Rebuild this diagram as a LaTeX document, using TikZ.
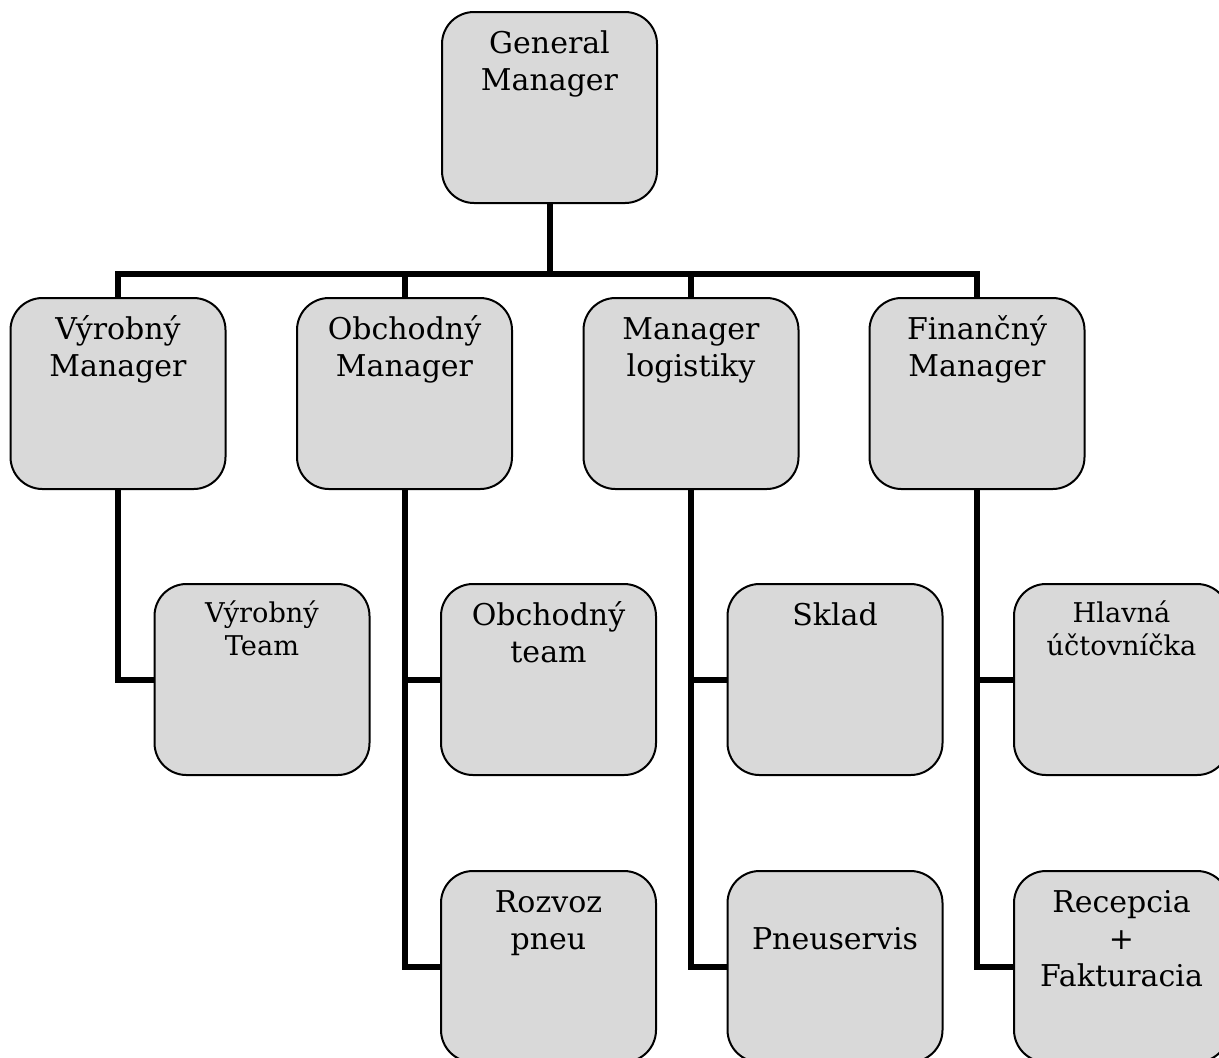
\documentclass[tikz,border=0pt]{standalone}
\usepackage{fontspec}
\setmainfont{DejaVu Serif}
\usetikzlibrary{backgrounds}
\definecolor{boxfill}{RGB}{217,217,217}
\newcommand{\bigtxt}[1]{\parbox[c][95.5pt][t]{107.5pt}{\centering\fontsize{15}{18.5}\selectfont\rule{0pt}{20.5pt}#1}}
\newcommand{\smalltxt}[1]{\parbox[c][95.5pt][t]{107.5pt}{\centering\fontsize{13.6}{16.5}\selectfont\rule{0pt}{19pt}#1}}
\tikzset{
  orgbox/.style={draw=black, line width=1pt, fill=boxfill, rounded corners=16pt,
    inner sep=0pt, minimum width=107.5pt, minimum height=95.5pt},
  conn/.style={draw=black, line width=3pt}
}
\begin{document}
\begin{tikzpicture}[x=0.5pt, y=-0.5pt]
\useasboundingbox (0,0) rectangle (1219,1057);
\clip (0,0) rectangle (1219,1057);
% level 1
\node[orgbox] (gm) at (549.5,107.5) {\bigtxt{General\\Manager}};
% level 2
\node[orgbox] (vm) at (118,393.5) {\bigtxt{Výrobný\\Manager}};
\node[orgbox] (om) at (404.5,393.5) {\bigtxt{Obchodný\\Manager}};
\node[orgbox] (ml) at (691,393.5) {\bigtxt{Manager\\logistiky}};
\node[orgbox] (fm) at (977,393.5) {\bigtxt{Finančný\\Manager}};
% level 3
\node[orgbox] (vt) at (262,679.5) {\smalltxt{Výrobný\\Team}};
\node[orgbox] (ot) at (548.5,679.5) {\bigtxt{Obchodný\\team}};
\node[orgbox] (sk) at (835,679.5) {\bigtxt{Sklad}};
\node[orgbox] (hu) at (1121.5,679.5) {\smalltxt{Hlavná\\účtovníčka}};
% level 4
\node[orgbox] (rp) at (548.5,966.5) {\bigtxt{Rozvoz\\pneu}};
\node[orgbox] (ps) at (835,966.5) {\bigtxt{\mbox{}\\Pneuservis}};
\node[orgbox] (rf) at (1121.5,966.5) {\bigtxt{Recepcia\\+\\Fakturacia}};
\coordinate (bar) at (549.5,274);
\begin{scope}[on background layer]
\draw[conn] (gm.south) -- (bar);
\draw[conn] (vm.north) |- (bar) -| (fm.north);
\draw[conn] (om.north) -- (om.north |- bar);
\draw[conn] (ml.north) -- (ml.north |- bar);
\draw[conn] (vm.south) |- (vt.west);
\draw[conn] (om.south) |- (rp.west);
\draw[conn] (om.south |- ot.west) -- (ot.west);
\draw[conn] (ml.south) |- (ps.west);
\draw[conn] (ml.south |- sk.west) -- (sk.west);
\draw[conn] (fm.south) |- (rf.west);
\draw[conn] (fm.south |- hu.west) -- (hu.west);
\end{scope}
\end{tikzpicture}
\end{document}
